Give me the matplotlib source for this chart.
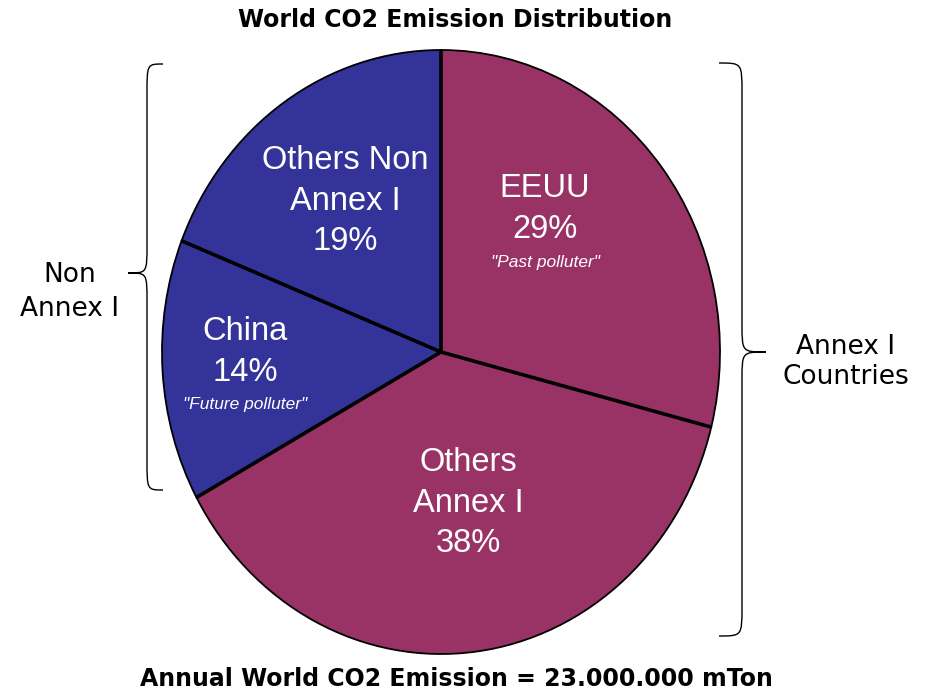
import matplotlib
matplotlib.use("Agg")
from matplotlib import pyplot
from matplotlib.path import Path
from matplotlib.patches import PathPatch
import numpy as np

# data
names = ["EEUU", "Others\nAnnex I", "China", "Others Non\nAnnex I"]
shares = [29, 38, 14, 19]
notes = ['"Past polluter"', "", '"Future polluter"', ""]
slice_colors = ["#993366", "#993366", "#333399", "#333399"]

title = "World CO2 Emission Distribution"
footer = "Annual World CO2 Emission = 23.000.000 mTon"

W, H = 928, 691
fig = pyplot.figure(figsize=(W / 100, H / 100), dpi=100)

# pie box in pixels (pie is slightly taller than wide in the reference)
cx, cy, rx, ry = 441, 352, 279, 302
ax = fig.add_axes([(cx - rx) / W, (H - cy - ry) / H, 2 * rx / W, 2 * ry / H])
wedges, _ = ax.pie(shares, colors=slice_colors, startangle=90, counterclock=False,
                   wedgeprops=dict(edgecolor="black", linewidth=1.3))
ax.set_aspect("auto")
ax.set_xlim(-1, 1)
ax.set_ylim(-1, 1)
for w in wedges:
    w.set_clip_on(False)

# thick radial separators
bounds = 90 - 360 * np.cumsum([0] + shares[:-1]) / sum(shares)
for a in bounds:
    t = np.deg2rad(a)
    ax.plot([0, np.cos(t)], [0, np.sin(t)], color="black", lw=2.6,
            solid_capstyle="butt", clip_on=False)


def px(x, y):
    return (x - cx) / rx, (cy - y) / ry


label_pos = [(545, 209), (468, 503), (245, 352), (345, 201)]
note_pos = [(545, 263), None, (245, 405), None]
for name, s, note, lp, npos in zip(names, shares, notes, label_pos, note_pos):
    ax.text(*px(*lp), "%s\n%d%%" % (name, s), ha="center", va="center",
            color="white", fontsize=23.5, family="Liberation Sans", linespacing=1.38)
    if note:
        ax.text(*px(*npos), note, ha="center", va="center", color="white",
                fontsize=12.5, style="italic", family="Liberation Sans")

# overlay in pixel coords for braces and outer text
ov = fig.add_axes([0, 0, 1, 1])
ov.set_xlim(0, W)
ov.set_ylim(H, 0)
ov.axis("off")


def brace(x_end, x_spine, x_tip, y0, y1, ytip):
    r = 30
    rt = 28
    verts = [(x_end, y0),
             (x_spine, y0), (x_spine, y0), (x_spine, y0 + r),
             (x_spine, ytip - rt),
             (x_spine, ytip), (x_spine, ytip), (x_tip, ytip),
             (x_spine, ytip), (x_spine, ytip), (x_spine, ytip + rt),
             (x_spine, y1 - r),
             (x_spine, y1), (x_spine, y1), (x_end, y1)]
    codes = [Path.MOVETO, Path.CURVE4, Path.CURVE4, Path.CURVE4, Path.LINETO,
             Path.CURVE4, Path.CURVE4, Path.CURVE4, Path.CURVE4, Path.CURVE4, Path.CURVE4,
             Path.LINETO, Path.CURVE4, Path.CURVE4, Path.CURVE4]
    ov.add_patch(PathPatch(Path(verts, codes), fill=False, lw=1.0, edgecolor="black"))


brace(163, 147, 128, 64, 490, 273)
brace(719, 742, 766, 63, 636, 352)

ov.text(70, 292, "Non\nAnnex I", ha="center", va="center", fontsize=19,
        family="DejaVu Sans", linespacing=1.4)
ov.text(846, 362, "Annex I\nCountries", ha="center", va="center", fontsize=19,
        family="DejaVu Sans", linespacing=1.2)

ov.text(455, 20, title, ha="center", va="center", fontsize=17, fontweight="bold",
        family="DejaVu Sans")
ov.text(456, 679, footer, ha="center", va="center", fontsize=17, fontweight="bold",
        family="DejaVu Sans")

pyplot.savefig("out.png", dpi=100)
